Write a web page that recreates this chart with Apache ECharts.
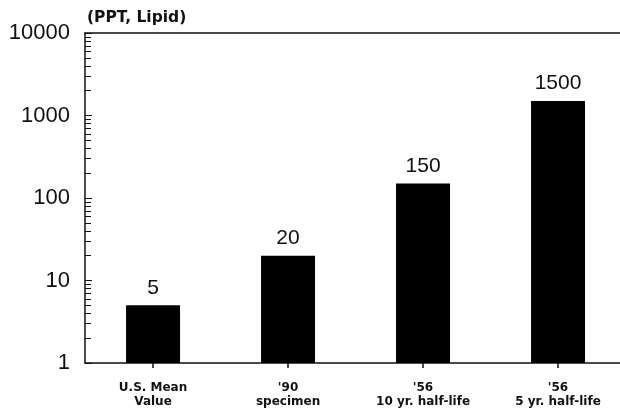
<!DOCTYPE html>
<html><head><meta charset="utf-8">
<script src="https://cdn.jsdelivr.net/npm/echarts@6/dist/echarts.min.js"></script>
<style>html,body{margin:0;padding:0;background:#fff}#c{width:620px;height:410px}</style>
</head><body><div id="c"></div>
<script>
const categories = ["U.S. Mean\nValue", "'90\nspecimen", "'56\n10 yr. half-life", "'56\n5 yr. half-life"];
const values = [5, 20, 150, 1500];
const yTicks = [1, 10, 100, 1000, 10000];
const minorTicks = [];
for (let d = 1; d < 10000; d *= 10) for (let k = 2; k <= 9; k++) minorTicks.push(k * d);
const catPos = categories.map((c, i) => i);

const chart = echarts.init(document.getElementById('c'), null, {renderer: 'canvas'});
const black = '#111';
const ff = '"Liberation Sans", Arial, sans-serif';
const fb = '"DejaVu Sans", Verdana, sans-serif';
const xMin = -0.504, xMax = 3.459;
chart.setOption({
  animation: false,
  backgroundColor: '#fff',
  grid: {left: 85, right: 0, top: 33, bottom: 47},
  graphic: [{type: 'text', left: 87, top: 10, style: {text: '(PPT, Lipid)', font: 'bold 15.5px ' + fb, fill: black}}],
  xAxis: [{
    type: 'value', min: xMin, max: xMax,
    axisLine: {show: true, onZero: false, lineStyle: {color: black, width: 1.5}},
    axisTick: {show: true, customValues: catPos, length: 5, lineStyle: {color: black, width: 1.5}},
    splitLine: {show: false},
    axisLabel: {customValues: catPos, formatter: v => categories[Math.round(v)], color: black,
      fontFamily: fb, fontWeight: 'bold', fontSize: 12, lineHeight: 14, margin: 18}
  }, {
    type: 'value', position: 'top', min: xMin, max: xMax,
    axisLine: {show: true, onZero: false, lineStyle: {color: black, width: 1.5}},
    axisTick: {show: false}, axisLabel: {show: false}, splitLine: {show: false}
  }],
  yAxis: [{
    type: 'log', min: 1, max: 10000, logBase: 10, position: 'left',
    axisLine: {show: true, onZero: false, lineStyle: {color: black, width: 1.5}},
    axisTick: {show: true, inside: true, length: 7, customValues: yTicks, lineStyle: {color: black, width: 1}},
    splitLine: {show: false},
    axisLabel: {customValues: yTicks, formatter: v => String(Math.round(v)), color: black, fontSize: 22, fontFamily: ff, margin: 15}
  }, {
    type: 'log', min: 1, max: 10000, logBase: 10, position: 'left',
    axisLine: {show: false, onZero: false},
    axisTick: {show: true, inside: true, length: 6, customValues: minorTicks, lineStyle: {color: black, width: 1}},
    axisLabel: {show: false}, splitLine: {show: false}
  }],
  series: [{
    type: 'bar', xAxisIndex: 0, yAxisIndex: 0,
    data: values.map((v, i) => [i, v]),
    barWidth: 54,
    itemStyle: {color: '#000'},
    label: {show: true, position: 'top', distance: 7, color: black, fontSize: 21,
      fontFamily: ff, formatter: p => String(p.value[1])}
  }]
});
</script></body></html>
